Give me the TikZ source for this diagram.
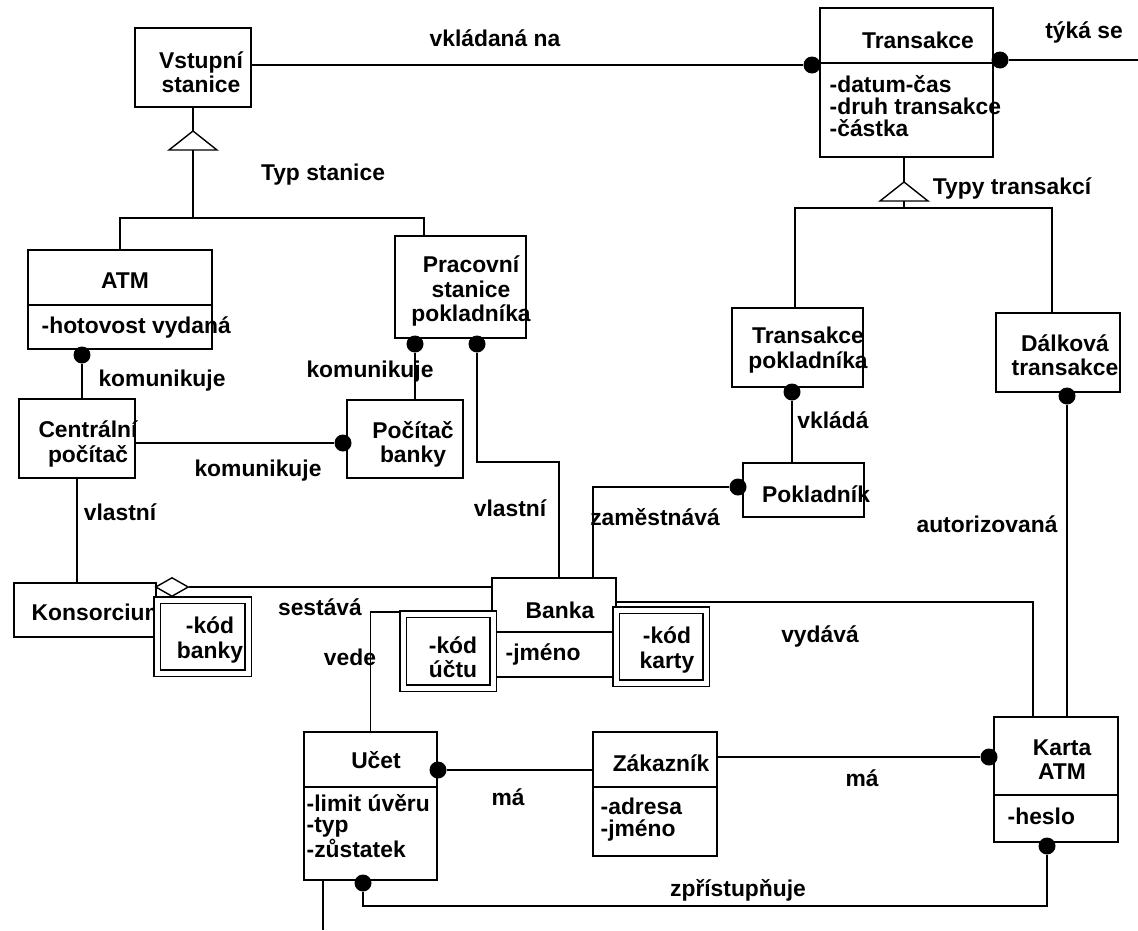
\documentclass[tikz,border=0pt]{standalone}
\usepackage{fontspec}
\setmainfont{Liberation Sans}
\usetikzlibrary{fit,calc,shapes.geometric}

\newcommand{\pxunit}{0.02cm}
\newcommand{\lw}{0.8pt}

\begin{document}
\begin{tikzpicture}[x=\pxunit, y=-\pxunit, line width=\lw,
    font=\bfseries\fontsize{13}{13.8}\selectfont,
    box/.style={draw, fill=white, inner sep=0pt},
    keybox/.style={box, double, double distance=0.1cm},
    txt/.style={inner sep=0pt, align=center},
    attr/.style={inner sep=0pt, align=left, anchor=west, font=\bfseries\fontsize{13}{12.5}\selectfont},
    dot/.style={circle, fill=black, inner sep=0pt, minimum size=0.34cm},
    agg/.style={diamond, draw, fill=white, inner sep=0pt, minimum width=0.66cm, minimum height=0.38cm}]
    \useasboundingbox (0,0) rectangle (1138,930);

    % Classes.
    \node[box, fit={(135,28) (251,107)}] (vstup) {};
    \node[box, fit={(820,8) (993,157)}] (trans) {};
    \node[box, fit={(28,250) (212,349)}] (atm) {};
    \node[box, fit={(395,236) (526,338)}] (prac) {};
    \node[box, fit={(19,399) (135,478)}] (cent) {};
    \node[box, fit={(347,400) (463,478)}] (poc) {};
    \node[box, fit={(732,308) (863,387)}] (tpok) {};
    \node[box, fit={(743,463) (864,517)}] (pok) {};
    \node[box, fit={(996,313) (1120,392)}] (dalk) {};
    \node[box, fit={(14,583) (156,637)}] (kons) {};
    \node[box, fit={(492,578) (616,677)}] (banka) {};
    \node[box, fit={(304,732) (437,880)}] (ucet) {};
    \node[box, fit={(593,732) (717,856)}] (zak) {};
    \node[box, fit={(994,717) (1118,842)}] (karta) {};

    % Compartments.
    \draw (trans.west |- 0,63) -- (trans.east |- 0,63);
    \draw (atm.west |- 0,305) -- (atm.east |- 0,305);
    \draw (banka.west |- 0,632) -- (banka.east |- 0,632);
    \draw (ucet.west |- 0,787) -- (ucet.east |- 0,787);
    \draw (zak.west |- 0,787) -- (zak.east |- 0,787);
    \draw (karta.west |- 0,795) -- (karta.east |- 0,795);

    % Class names and attributes.
    \node[txt] (nvstup) at (201,72) {Vstupn\'{\i}\\stanice};
    \node[txt] (ntrans) at (918,40) {Transakce};
    \node[attr] (atrans) at (829,106) {-datum-\v{c}as\\-druh transakce\\-\v{c}\'{a}stka};
    \node[txt] (natm) at (125,281) {ATM};
    \node[attr] (aatm) at (41,327) {-hotovost vydan\'{a}};
    \node[txt] (nprac) at (471,291) {Pracovn\'{\i}\\stanice\\pokladn\'{\i}ka};
    \node[txt] (ncent) at (88,444) {Centr\'{a}ln\'{\i}\\po\v{c}\'{\i}ta\v{c}};
    \node[txt] (npoc) at (413,444) {Po\v{c}\'{\i}ta\v{c}\\banky};
    \node[txt] (ntpok) at (808,350) {Transakce\\pokladn\'{\i}ka};
    \node[txt] (npok) at (816,494) {Pokladn\'{\i}k};
    \node[txt] (ndalk) at (1065,355) {D\'{a}lkov\'{a}\\transakce};
    \node[attr] (nkons) at (31,612) {Konsorcium};
    \node[txt] (nbanka) at (560,610) {Banka};
    \node[attr] (abanka) at (505,654) {-jm\'{e}no};
    \node[txt] (nucet) at (376,760) {U\v{c}et};
    \node[attr] (aucet) at (306,826) {-limit \'{u}v\v{e}ru\\-typ\\-z\r{u}statek};
    \node[txt] (nzak) at (661,763) {Z\'{a}kazn\'{\i}k};
    \node[attr] (azak) at (600,820) {-adresa\\-jm\'{e}no};
    \node[txt] (nkarta) at (1062,760) {Karta\\ATM};
    \node[attr] (akarta) at (1007,816) {-heslo};

    % Generalizations.
    \coordinate (gst) at (193,131);
    \coordinate (gstb) at (193,150);
    \coordinate (jst) at (193,218);
    \draw[fill=white] (gst) -- ($(gstb)+(24,0)$) -- ($(gstb)+(-24,0)$) -- cycle;
    \draw (vstup.south -| gst) -- (gst);
    \draw (gstb) -- (jst);
    \draw (atm.north) |- (jst) -| (prac.north -| 424,0);
    \coordinate (gtr) at (904,182);
    \coordinate (gtrb) at (904,201);
    \coordinate (jtr) at (904,208);
    \draw[fill=white] (gtr) -- ($(gtrb)+(24,0)$) -- ($(gtrb)+(-24,0)$) -- cycle;
    \draw (trans.south -| gtr) -- (gtr);
    \draw (gtrb) -- (jtr);
    \draw (tpok.north -| 795,0) |- (jtr) -| (dalk.north -| 1052,0);

    % Association ends.
    \node[dot] (dvk) at (812,65) {};
    \node[dot] (dtyk) at (1000,60) {};
    \node[dot] (datm) at (82,355) {};
    \node[dot] (dpoc) at (343,443) {};
    \node[dot] (dpra) at (415,344) {};
    \node[dot] (dprb) at (477,344) {};
    \node[dot] (dtp) at (792,392) {};
    \node[dot] (dpok) at (738,487) {};
    \node[dot] (ddal) at (1067,396) {};
    \node[dot] (dkl) at (989,757) {};
    \node[dot] (dkb) at (1047,846) {};
    \node[dot] (dur) at (438,770) {};
    \node[dot] (dub) at (363,883) {};
    \node[agg] (agg) at (172,587) {};
    \coordinate (tykend) at (1138,60);
    \coordinate (uend) at (323,930);

    % Associations.
    \draw (vstup.east |- dvk) -- (dvk);
    \draw (dtyk) -- (tykend);
    \draw (datm) -- (datm |- cent.north);
    \draw (cent.east |- dpoc) -- (dpoc);
    \draw (dpra) -- (dpra |- poc.north);
    \draw (dprb) -- (dprb |- 0,462) -| (banka.north -| 559,0);
    \draw (banka.north -| 593,0) |- (dpok);
    \draw (dtp) -- (dtp |- pok.north);
    \draw (ddal) -- (ddal |- karta.north);
    \draw (banka.east |- 0,602) -| (karta.north -| 1033,0);
    \draw (agg.east) -- (agg.east -| banka.west);
    \draw (cent.south) -- (cent.south |- kons.north);
    \draw (banka.west |- 0,612) -| (ucet.north);
    \draw (dur) -- (dur -| zak.west);
    \draw (zak.east |- dkl) -- (dkl);
    \draw (dub) -- (dub |- 0,906) -| (dkb);
    \draw (ucet.south -| uend) -- (uend);

    % Qualifiers.
    \node[keybox, fit={(157,600) (248,673)}] (kodb) {};
    \node[keybox, fit={(403,614) (493,688)}] (kodu) {};
    \node[keybox, fit={(616,610) (706,683)}] (kodk) {};
    \node[txt] (nkodb) at (210,640) {-k\'{o}d\\banky};
    \node[txt] (nkodu) at (453,657) {-k\'{o}d\\\'{u}\v{c}tu};
    \node[txt] (nkodk) at (667,650) {-k\'{o}d\\karty};

    % Association names.
    \node[txt] (lvk) at (495,38) {vkl\'{a}dan\'{a} na};
    \node[txt] (ltyk) at (1084,32) {t\'{y}k\'{a} se};
    \node[txt] (ltt) at (1012,188) {Typy transakc\'{\i}};
    \node[txt] (lts) at (323,175) {Typ stanice};
    \node[txt] (lkom) at (162,381) {komunikuje};
    \node[txt] (lkomb) at (258,471) {komunikuje};
    \node[txt] (lkomc) at (370,372) {komunikuje};
    \node[txt] (lvla) at (120,512) {vlastn\'{\i}};
    \node[txt] (lvlb) at (510,508) {vlastn\'{\i}};
    \node[txt] (lvkl) at (833,420) {vkl\'{a}d\'{a}};
    \node[txt] (lzam) at (655,517) {zam\v{e}stn\'{a}v\'{a}};
    \node[txt] (laut) at (987,524) {autorizovan\'{a}};
    \node[txt] (lses) at (320,607) {sest\'{a}v\'{a}};
    \node[txt] (lvede) at (350,657) {vede};
    \node[txt] (lvyd) at (820,636) {vyd\'{a}v\'{a}};
    \node[txt] (lma) at (508,797) {m\'{a}};
    \node[txt] (lmb) at (862,778) {m\'{a}};
    \node[txt] (lzpr) at (738,890) {zp\v{r}\'{\i}stup\v{n}uje};

\end{tikzpicture}
\end{document}
